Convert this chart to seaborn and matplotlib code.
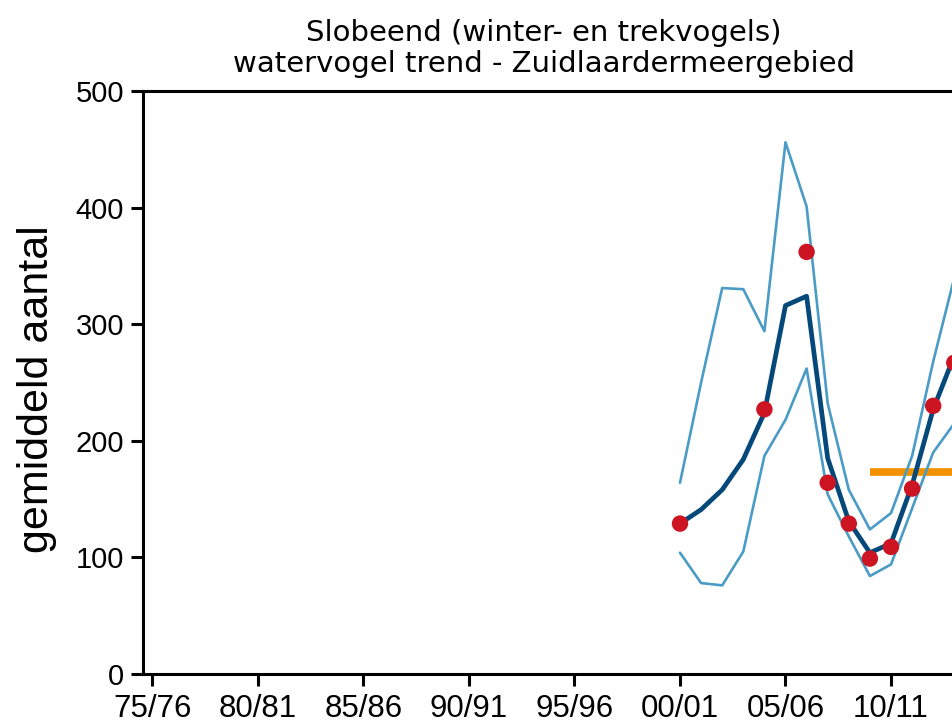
import matplotlib
matplotlib.use("Agg")
import matplotlib.pyplot as plt
import numpy as np
import pandas as pd
import seaborn as sns

# ---- data ----
seasons = list(range(2000, 2014))  # start year of the season (2000 = 00/01)
trend = [129, 141, 158, 184, 224, 316, 324, 185, 131, 104, 112, 162, 227, 273]
upper = [164, 250, 331, 330, 294, 456, 401, 232, 158, 124, 138, 187, 268, 340]
lower = [104, 78, 76, 105, 187, 218, 262, 154, 118, 84, 94, 142, 190, 215]

obs_seasons = [2000, 2004, 2006, 2007, 2008, 2009, 2010, 2011, 2012, 2013]
observed = [129, 227, 362, 164, 129, 99, 109, 159, 230, 267]

mean_seasons = [2009, 2014]
mean_value = [173, 173]

tick_years = list(range(1975, 2015, 5))
tick_labels = [f"{y % 100:02d}/{(y + 1) % 100:02d}" for y in tick_years]
y_ticks = [0, 100, 200, 300, 400, 500]

title_1 = "Slobeend (winter- en trekvogels)"
title_2 = "watervogel trend - Zuidlaardermeergebied"
y_label = "gemiddeld aantal"

# ---- style ----
sns.set_theme(style="ticks")
plt.rcParams["font.family"] = ["Liberation Sans", "DejaVu Sans"]

c_light = "#4a9cc6"
c_dark = "#05497a"
c_red = "#cc1422"
c_orange = "#f39200"

fig = plt.figure(figsize=(9.52, 7.24), dpi=100)
# axes runs past the right edge of the figure (the reference is cropped)
ax = fig.add_axes([143 / 952, 50 / 724, 874.6 / 952, 583 / 724])

df = pd.DataFrame({"seizoen": seasons, "trend": trend, "upper": upper, "lower": lower})
obs_df = pd.DataFrame({"seizoen": obs_seasons, "aantal": observed})
mean_df = pd.DataFrame({"seizoen": mean_seasons, "gem": mean_value})

sns.lineplot(data=mean_df, x="seizoen", y="gem", color=c_orange, lw=5.5,
             solid_capstyle="butt", ax=ax, zorder=1)
sns.lineplot(data=df, x="seizoen", y="upper", color=c_light, lw=1.9, ax=ax, zorder=2)
sns.lineplot(data=df, x="seizoen", y="lower", color=c_light, lw=1.9, ax=ax, zorder=2)
sns.lineplot(data=df, x="seizoen", y="trend", color=c_dark, lw=3.4, ax=ax, zorder=3)
sns.scatterplot(data=obs_df, x="seizoen", y="aantal", color=c_red, s=140,
                edgecolor="none", ax=ax, zorder=5)

ax.set_xlim(1974.55, 2016)
ax.set_ylim(0, 500)
ax.set_xticks(tick_years)
ax.set_xticklabels(tick_labels)
ax.set_yticks(y_ticks)
ax.set_yticklabels([str(v) for v in y_ticks])
ax.set_xlabel("")

for s in ax.spines.values():
    s.set_linewidth(2.2)
    s.set_color("black")
ax.tick_params(axis="both", direction="out", length=8.5, width=2.2, color="black",
               labelcolor="black")
ax.tick_params(axis="y", labelsize=21, pad=5)
ax.tick_params(axis="x", labelsize=22.5, pad=6)

ax.set_ylabel(y_label, fontsize=31, color="black", va="center")
ax.yaxis.set_label_coords((37 - 143) / 874.6, (674 - 389) / 583)

fig.text(544 / 952, 1 - 41 / 724, title_1, ha="center", va="baseline",
         fontsize=21, family=["DejaVu Sans"], color="black")
fig.text(544 / 952, 1 - 72 / 724, title_2, ha="center", va="baseline",
         fontsize=21, family=["DejaVu Sans"], color="black")

fig.savefig("out.png", dpi=100, facecolor="white")
